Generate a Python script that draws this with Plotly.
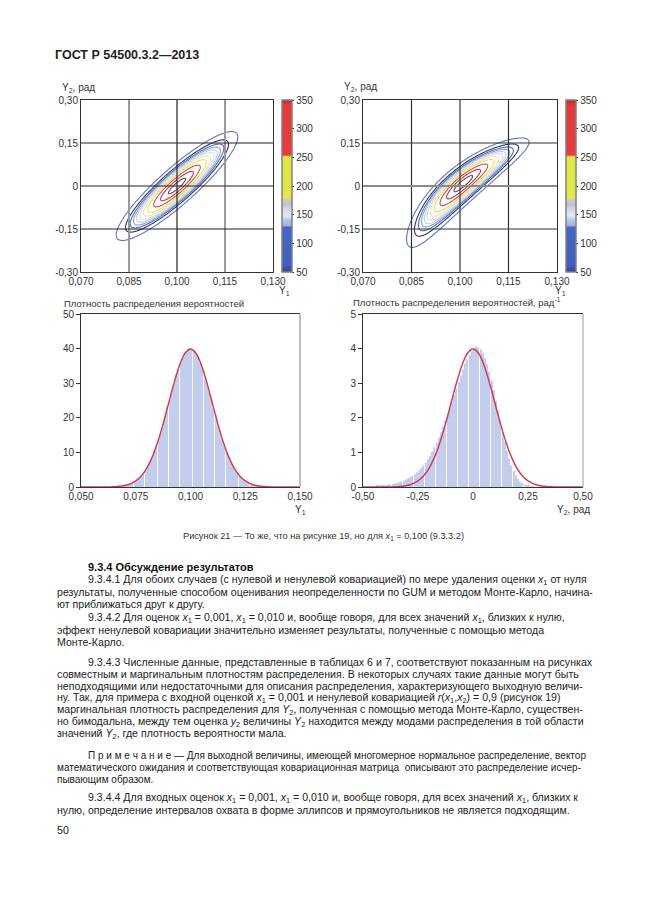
import numpy as np
import plotly.graph_objects as go

W, H = 646, 913
FONT = "Liberation Sans, Arial, sans-serif"
PAGE_OFFSET = 8  # default body margin of the html page

# ---------------- data ----------------
y1_ticks = [0.070, 0.085, 0.100, 0.115, 0.130]
y1_ticktext = ["0,070", "0,085", "0,100", "0,115", "0,130"]
y2_ticks = [-0.30, -0.15, 0.0, 0.15, 0.30]
y2_ticktext = ["-0,30", "-0,15", "0", "0,15", "0,30"]
cbar_ticks = [50, 100, 150, 200, 250, 300, 350]

# input estimates given in the caption / text (x1 = 0,100; x2 = 0; u = 0,010; r = 0,9)
x1_est, x2_est, u_x, r_x = 0.100, 0.0, 0.010, 0.9

contour_levels = [60, 100, 125, 145, 165, 185, 210, 240, 280, 320, 352]

# marginal histogram of Y1 (bin start 0.065, width 0.001)
h1_start, h1_width = 0.065, 0.001
h1_values = [0.10, 0.15, 0.21, 0.27, 0.39, 0.50, 0.70, 0.90, 1.21, 1.52, 2.02, 2.49, 3.20, 3.92,
             4.95, 5.90, 7.28, 8.55, 10.35, 11.90, 14.05, 15.90, 18.40, 20.45, 23.15, 25.20,
             28.00, 29.90, 32.50, 34.10, 36.30, 37.30, 38.90, 39.20, 40.10, 39.60, 39.50, 38.50,
             37.70, 35.90, 34.50, 32.10, 30.30, 27.60, 25.60, 22.80, 20.80, 18.10, 16.20, 13.80,
             12.10, 10.10, 8.70, 7.10, 6.00, 4.80, 3.98, 3.12, 2.55, 1.96, 1.57, 1.17, 0.92, 0.68,
             0.52, 0.37, 0.29, 0.19, 0.15, 0.10]

# marginal histogram of Y2 (bin start -0.44, width 0.01)
h2_start, h2_width = -0.44, 0.01
h2_values = [0.03, 0.04, 0.05, 0.05, 0.06, 0.07, 0.08, 0.09, 0.11, 0.12, 0.14, 0.16, 0.19, 0.22,
             0.25, 0.28, 0.32, 0.37, 0.42, 0.48, 0.55, 0.62, 0.70, 0.80, 0.90, 1.02, 1.15, 1.28,
             1.43, 1.58, 1.74, 1.92, 2.10, 2.28, 2.47, 2.66, 2.85, 3.04, 3.22, 3.40, 3.56, 3.70,
             3.83, 3.93, 4.00, 4.05, 4.04, 3.98, 3.88, 3.73, 3.55, 3.33, 3.08, 2.80, 2.50, 2.20,
             1.89, 1.59, 1.31, 1.05, 0.82, 0.62, 0.46, 0.33, 0.23, 0.16, 0.11, 0.07, 0.05, 0.03,
             0.02, 0.01]

# GUM (red) curves
c1_x = [0.050, 0.060, 0.0625, 0.065, 0.0675, 0.070, 0.0725, 0.075, 0.0775, 0.080, 0.0825, 0.085,
        0.0875, 0.090, 0.0925, 0.095, 0.0975, 0.100, 0.1025, 0.105, 0.1075, 0.110, 0.1125, 0.115,
        0.1175, 0.120, 0.1225, 0.125, 0.1275, 0.130, 0.1325, 0.135, 0.1375, 0.140, 0.150]
c1_y = [0.0, 0.013, 0.035, 0.087, 0.20, 0.44, 0.91, 1.75, 3.17, 5.40, 8.63, 12.95, 18.26, 24.20,
        30.11, 35.21, 38.67, 39.89, 38.67, 35.21, 30.11, 24.20, 18.26, 12.95, 8.63, 5.40, 3.17,
        1.75, 0.91, 0.44, 0.20, 0.087, 0.035, 0.013, 0.0]
c2_x = [-0.50, -0.40, -0.375, -0.35, -0.325, -0.30, -0.275, -0.25, -0.225, -0.20, -0.175, -0.15,
        -0.125, -0.10, -0.075, -0.05, -0.025, 0.0, 0.025, 0.05, 0.075, 0.10, 0.125, 0.15, 0.175,
        0.20, 0.225, 0.25, 0.275, 0.30, 0.325, 0.35, 0.375, 0.40, 0.50]
c2_y = [0.0, 0.0013, 0.0035, 0.0087, 0.020, 0.044, 0.091, 0.175, 0.317, 0.540, 0.863, 1.295,
        1.826, 2.420, 3.011, 3.521, 3.867, 3.989, 3.867, 3.521, 3.011, 2.420, 1.826, 1.295, 0.863,
        0.540, 0.317, 0.175, 0.091, 0.044, 0.020, 0.0087, 0.0035, 0.0013, 0.0]

h1_ticks = [0.050, 0.075, 0.100, 0.125, 0.150]
h1_ticktext = ["0,050", "0,075", "0,100", "0,125", "0,150"]
h1_yticks = [0, 10, 20, 30, 40, 50]
h2_ticks = [-0.50, -0.25, 0.0, 0.25, 0.50]
h2_ticktext = ["-0,50", "-0,25", "0", "0,25", "0,50"]
h2_yticks = [0, 1, 2, 3, 4, 5]

# ---------------- styles ----------------
level_colors = ["#5a74cc", "#33335e", "#4f6ac4", "#8fa2da", "#c4cce6", "#dedbd2",
                "#e4e6c0", "#dde64e", "#d24a5a", "#c8334a", "#555055"]
cbar_scale = [[0.0, "#2e44a0"], [0.04, "#3f5fc2"], [0.26, "#4466c4"], [0.27, "#9fb2de"],
              [0.30, "#b8c6e6"], [0.33, "#e4e8f4"], [0.37, "#cfd6ec"], [0.39, "#c4c4c4"],
              [0.42, "#cccccc"], [0.43, "#dfe845"], [0.67, "#e0e842"], [0.68, "#ea3a3c"],
              [0.97, "#e83838"], [1.0, "#c02626"]]


def px(x):
    return (x - PAGE_OFFSET) / W


def py(y):
    return 1 - (y - PAGE_OFFSET) / H


# ---------------- densities ----------------
g1 = np.linspace(0.07, 0.13, 241)
g2 = np.linspace(-0.3, 0.3, 241)
A, B = np.meshgrid(g1, g2)


def bvn(a, b, ma, mb, sa, sb, r):
    za, zb = (a - ma) / sa, (b - mb) / sb
    q = (za ** 2 - 2 * r * za * zb + zb ** 2) / (1 - r ** 2)
    return np.exp(-q / 2) / (2 * np.pi * sa * sb * np.sqrt(1 - r ** 2))


z_gum = bvn(A, B, x1_est, x2_est / x1_est, u_x, u_x / x1_est, r_x)
z_mc = bvn(A * np.cos(B), A * np.sin(B), x1_est, x2_est, u_x, u_x, r_x) * A

fig = go.Figure()

for z, xa, ya in [(z_gum, "x", "y"), (z_mc, "x2", "y2")]:
    for lev, col in zip(contour_levels, level_colors):
        fig.add_trace(go.Contour(
            x=g1, y=g2, z=z, autocontour=False,
            contours=dict(start=lev, end=lev, size=1, coloring="none"),
            line=dict(color=col, width=1.1), showscale=False, hoverinfo="skip",
            xaxis=xa, yaxis=ya))

# colorbars
for xa, ya, cx in [("x", "y", 282), ("x2", "y2", 566)]:
    fig.add_trace(go.Scatter(
        x=[0.1], y=[0.0], mode="markers", xaxis=xa, yaxis=ya, hoverinfo="skip",
        marker=dict(size=0.1, color=[200], cmin=50, cmax=350, colorscale=cbar_scale,
                    showscale=True,
                    colorbar=dict(x=px(cx), xanchor="left", xpad=0, ypad=0,
                                  y=py(186), yanchor="middle", len=172, lenmode="pixels",
                                  thickness=10, outlinewidth=1.5, outlinecolor="#808080",
                                  tickvals=cbar_ticks, ticks="outside", ticklen=2,
                                  tickcolor="#333",
                                  tickfont=dict(size=10, family=FONT, color="#333"))),
        showlegend=False))

# histograms
fig.add_trace(go.Bar(x0=h1_start + h1_width / 2, dx=h1_width, y=h1_values,
                     marker=dict(color="#c3cdee", line=dict(width=0)),
                     xaxis="x3", yaxis="y3", showlegend=False))
fig.add_trace(go.Scatter(x=c1_x, y=c1_y, mode="lines", line=dict(color="#d8374a", width=1.4,
                         shape="spline"), xaxis="x3", yaxis="y3", showlegend=False))
fig.add_trace(go.Bar(x0=h2_start + h2_width / 2, dx=h2_width, y=h2_values,
                     marker=dict(color="#c3cdee", line=dict(width=0)),
                     xaxis="x4", yaxis="y4", showlegend=False))
fig.add_trace(go.Scatter(x=c2_x, y=c2_y, mode="lines", line=dict(color="#d8374a", width=1.4,
                         shape="spline"), xaxis="x4", yaxis="y4", showlegend=False))

tickfont = dict(size=10, family=FONT, color="#333")
common = dict(showgrid=False, zeroline=False, showline=True, linecolor="#333", linewidth=1,
              tickfont=tickfont, fixedrange=True)

layout_axes = dict(
    xaxis=dict(domain=[px(81), px(273)], anchor="y", range=[0.07, 0.13], tickvals=y1_ticks,
               ticktext=y1_ticktext, mirror=True, ticks="", **common),
    yaxis=dict(domain=[py(272), py(100)], anchor="x", range=[-0.3, 0.3], tickvals=y2_ticks,
               ticktext=y2_ticktext, mirror=True, ticks="", **common),
    xaxis2=dict(domain=[px(363), px(557)], anchor="y2", range=[0.07, 0.13], tickvals=y1_ticks,
                ticktext=y1_ticktext, mirror=True, ticks="", **common),
    yaxis2=dict(domain=[py(272), py(100)], anchor="x2", range=[-0.3, 0.3], tickvals=y2_ticks,
                ticktext=y2_ticktext, mirror=True, ticks="", **common),
    xaxis3=dict(domain=[px(81), px(300)], anchor="y3", range=[0.05, 0.15], tickvals=h1_ticks,
                ticktext=h1_ticktext, mirror=True, ticks="", **common),
    yaxis3=dict(domain=[py(487), py(314)], anchor="x3", range=[0, 50], tickvals=h1_yticks,
                ticks="outside", ticklen=4, tickcolor="#333", **common),
    xaxis4=dict(domain=[px(363), px(583)], anchor="y4", range=[-0.5, 0.5], tickvals=h2_ticks,
                ticktext=h2_ticktext, mirror=True, ticks="", **common),
    yaxis4=dict(domain=[py(487), py(314)], anchor="x4", range=[0, 5], tickvals=h2_yticks,
                ticks="outside", ticklen=4, tickcolor="#333", **common),
)

shapes = []
# grid lines of the contour panels
grid1_v = [("#9a9a9a", 2), ("#222", 1.2), ("#9a9a9a", 2)]
grid2_h = [("#333", 1.2), ("#8a8a8a", 2), ("#333", 1.2)]
for (col, w), v in zip(grid1_v, y1_ticks[1:4]):
    shapes.append(dict(type="line", xref="x", yref="y domain", x0=v, x1=v, y0=0, y1=1,
                       line=dict(color=col, width=w), layer="above"))
for v in y2_ticks[1:4]:
    shapes.append(dict(type="line", xref="x domain", yref="y", x0=0, x1=1, y0=v, y1=v,
                       line=dict(color="#222", width=1.2), layer="above"))
for v in y1_ticks[1:4]:
    shapes.append(dict(type="line", xref="x2", yref="y2 domain", x0=v, x1=v, y0=0, y1=1,
                       line=dict(color="#333", width=1.2), layer="above"))
for (col, w), v in zip(grid2_h, y2_ticks[1:4]):
    shapes.append(dict(type="line", xref="x2 domain", yref="y2", x0=0, x1=1, y0=v, y1=v,
                       line=dict(color=col, width=w), layer="above"))
# right borders of histogram panels (grey)
shapes.append(dict(type="line", xref="x3 domain", yref="y3 domain", x0=1, x1=1, y0=0, y1=1,
                   line=dict(color="#bdbdbd", width=2)))
shapes.append(dict(type="line", xref="x4 domain", yref="y4 domain", x0=1, x1=1, y0=0, y1=1,
                   line=dict(color="#bdbdbd", width=1.5)))

ann = []


def add_text(text, x, y, size=10, anchor="left", color="#222"):
    ann.append(dict(text=text, x=px(x), y=py(y), xref="paper", yref="paper",
                    xanchor=anchor, yanchor="middle", showarrow=False,
                    font=dict(size=size, family=FONT, color=color)))


add_text("<b>ГОСТ Р 54500.3.2—2013</b>", 53, 55, size=12.5, color="#222")
add_text("Y<sub>2</sub>, рад", 60, 88, size=10, color="#333")
add_text("Y<sub>1</sub>", 277, 291, size=10, color="#333")
add_text("Y<sub>2</sub>, рад", 342, 87, size=10, color="#333")
add_text("Y<sub>1</sub>", 553, 291, size=10, color="#333")
add_text("Плотность распределения вероятностей", 62, 303, size=9.5, color="#333")
add_text("Y<sub>1</sub>", 293, 510, size=10, color="#333")
add_text("Плотность распределения вероятностей, рад<sup>-1</sup>", 351, 302, size=9.5,
         color="#333")
add_text("Y<sub>2</sub>, рад", 592, 510, size=10, anchor="right", color="#333")
add_text("Рисунок 21 — То же, что на рисунке 19, но для <i>x</i><sub>1</sub> = 0,100 (9.3.3.2)",
         323, 536, size=9.2, anchor="center", color="#333")

add_text("<b>9.3.4 Обсуждение результатов</b>", 86, 567, size=11, color="#111")

x1i = "<i>x</i><sub>1</sub>"
body = [
    ("9.3.4.1 Для обоих случаев (с нулевой и ненулевой ковариацией) по мере удаления оценки " + x1i + " от нуля", 86, 580),
    ("результаты, полученные способом оценивания неопределенности по GUM и методом Монте-Карло, начина-", 55, 592),
    ("ют приближаться друг к другу.", 55, 604),
    ("9.3.4.2 Для оценок " + x1i + " = 0,001, " + x1i + " = 0,010 и, вообще говоря, для всех значений " + x1i + ", близких к нулю,", 86, 618),
    ("эффект ненулевой ковариации значительно изменяет результаты, полученные с помощью метода", 55, 630),
    ("Монте-Карло.", 55, 642),
    ("9.3.4.3 Численные данные, представленные в таблицах 6 и 7, соответствуют показанным на рисунках", 86, 662),
    ("совместным и маргинальным плотностям распределения. В некоторых случаях такие данные могут быть", 55, 674),
    ("неподходящими или недостаточными для описания распределения, характеризующего выходную величи-", 55, 686),
    ("ну. Так, для примера с входной оценкой " + x1i + " = 0,001 и ненулевой ковариацией <i>r</i>(<i>x</i><sub>1</sub>,<i>x</i><sub>2</sub>) = 0,9 (рисунок 19)", 55, 698),
    ("маргинальная плотность распределения для <i>Y</i><sub>2</sub>, полученная с помощью метода Монте-Карло, существен-", 55, 710),
    ("но бимодальна, между тем оценка <i>y</i><sub>2</sub> величины <i>Y</i><sub>2</sub> находится между модами распределения в той области", 55, 722),
    ("значений <i>Y</i><sub>2</sub>, где плотность вероятности мала.", 55, 734),
    ("9.3.4.4 Для входных оценок " + x1i + " = 0,001, " + x1i + " = 0,010 и, вообще говоря, для всех значений " + x1i + ", близких к", 86, 798),
    ("нулю, определение интервалов охвата в форме эллипсов и прямоугольников не является подходящим.", 55, 810),
]
for t, x, y in body:
    add_text(t, x, y, size=10.6, color="#222")

note = [
    ("П р и м е ч а н и е — Для выходной величины, имеющей многомерное нормальное распределение, вектор", 86, 755),
    ("математического ожидания и соответствующая ковариационная матрица  описывают это распределение исчер-", 55, 767),
    ("пывающим образом.", 55, 779),
]
for t, x, y in note:
    add_text(t, x, y, size=10, color="#222")

add_text("50", 55, 830, size=10.6, color="#222")

fig.update_layout(width=W, height=H, margin=dict(l=0, r=0, t=0, b=0, autoexpand=False),
                  paper_bgcolor="white", plot_bgcolor="white", showlegend=False,
                  bargap=0.45, annotations=ann, shapes=shapes, **layout_axes)

fig.write_html("out.html")
